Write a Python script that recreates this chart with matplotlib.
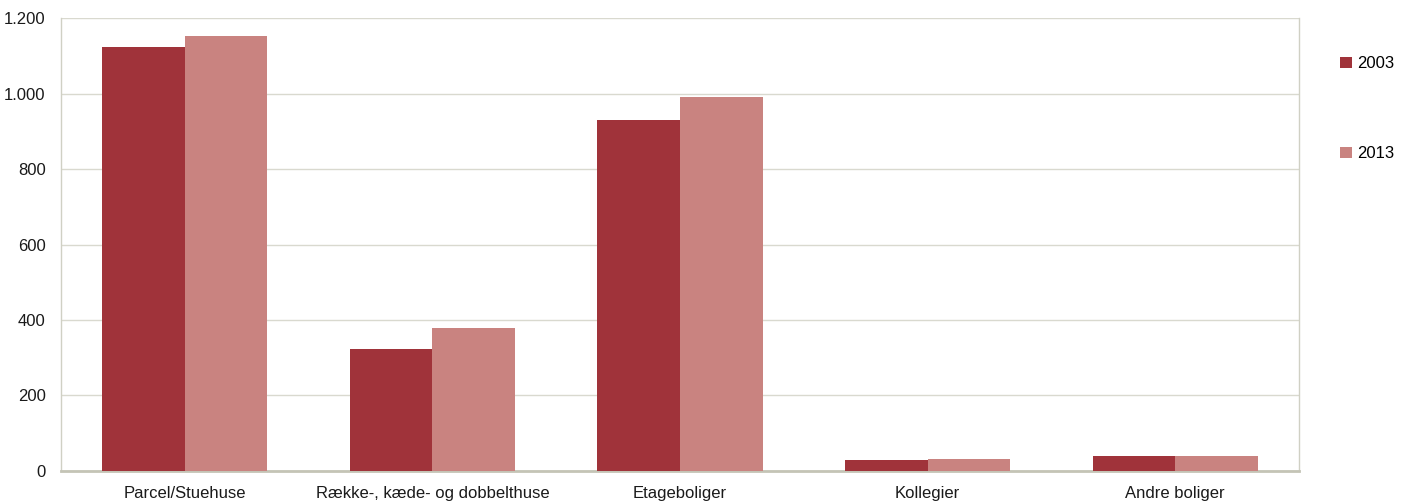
import matplotlib
matplotlib.use("Agg")
import matplotlib.pyplot as plt
from matplotlib.ticker import FuncFormatter
import numpy as np

# boliger efter type, 2003 og 2013
categories = ["Parcel/Stuehuse", "Række-, kæde- og dobbelthuse", "Etageboliger",
              "Kollegier", "Andre boliger"]
v2003 = [1123, 323, 930, 29, 40]
v2013 = [1152, 379, 991, 32, 40]

plt.rcParams['font.family'] = ['Liberation Sans Narrow', 'Liberation Sans', 'DejaVu Sans']

fig = plt.figure(figsize=(14.05, 5.01), dpi=100)
ax = fig.add_axes([0.0434, 0.0599, 0.8812, 0.9041])

x = np.arange(len(categories))
w = 1 / 3
ax.bar(x - w / 2, v2003, w, color="#A0333A", label="2003", zorder=3)
ax.bar(x + w / 2, v2013, w, color="#C98380", label="2013", zorder=3)

ax.set_xlim(-0.5, len(categories) - 0.5)
ax.set_ylim(0, 1200)
ax.set_yticks(range(0, 1201, 200))
ax.yaxis.set_major_formatter(FuncFormatter(lambda v, p: f"{int(v):,}".replace(",", ".")))
ax.set_xticks(x)
ax.set_xticklabels(categories)
ax.grid(axis="y", color="#D9D9CF", linewidth=1, zorder=0)
ax.tick_params(axis="both", length=0, labelsize=12, colors="#1a1a1a")
ax.tick_params(axis="x", pad=11)
ax.tick_params(axis="y", pad=11)

for s in ["left", "right"]:
    ax.spines[s].set_color("#D0D0C4")
    ax.spines[s].set_linewidth(1)
ax.spines["bottom"].set_color("#C4C4B6")
ax.spines["bottom"].set_linewidth(2)
ax.spines["top"].set_visible(False)

ax.legend(loc="upper left", bbox_to_anchor=(1.028, 0.93), frameon=False,
          handlelength=0.7, handleheight=0.7, handletextpad=0.3,
          labelspacing=4.5, fontsize=12, borderaxespad=0)

fig.savefig("out.png", dpi=100)
